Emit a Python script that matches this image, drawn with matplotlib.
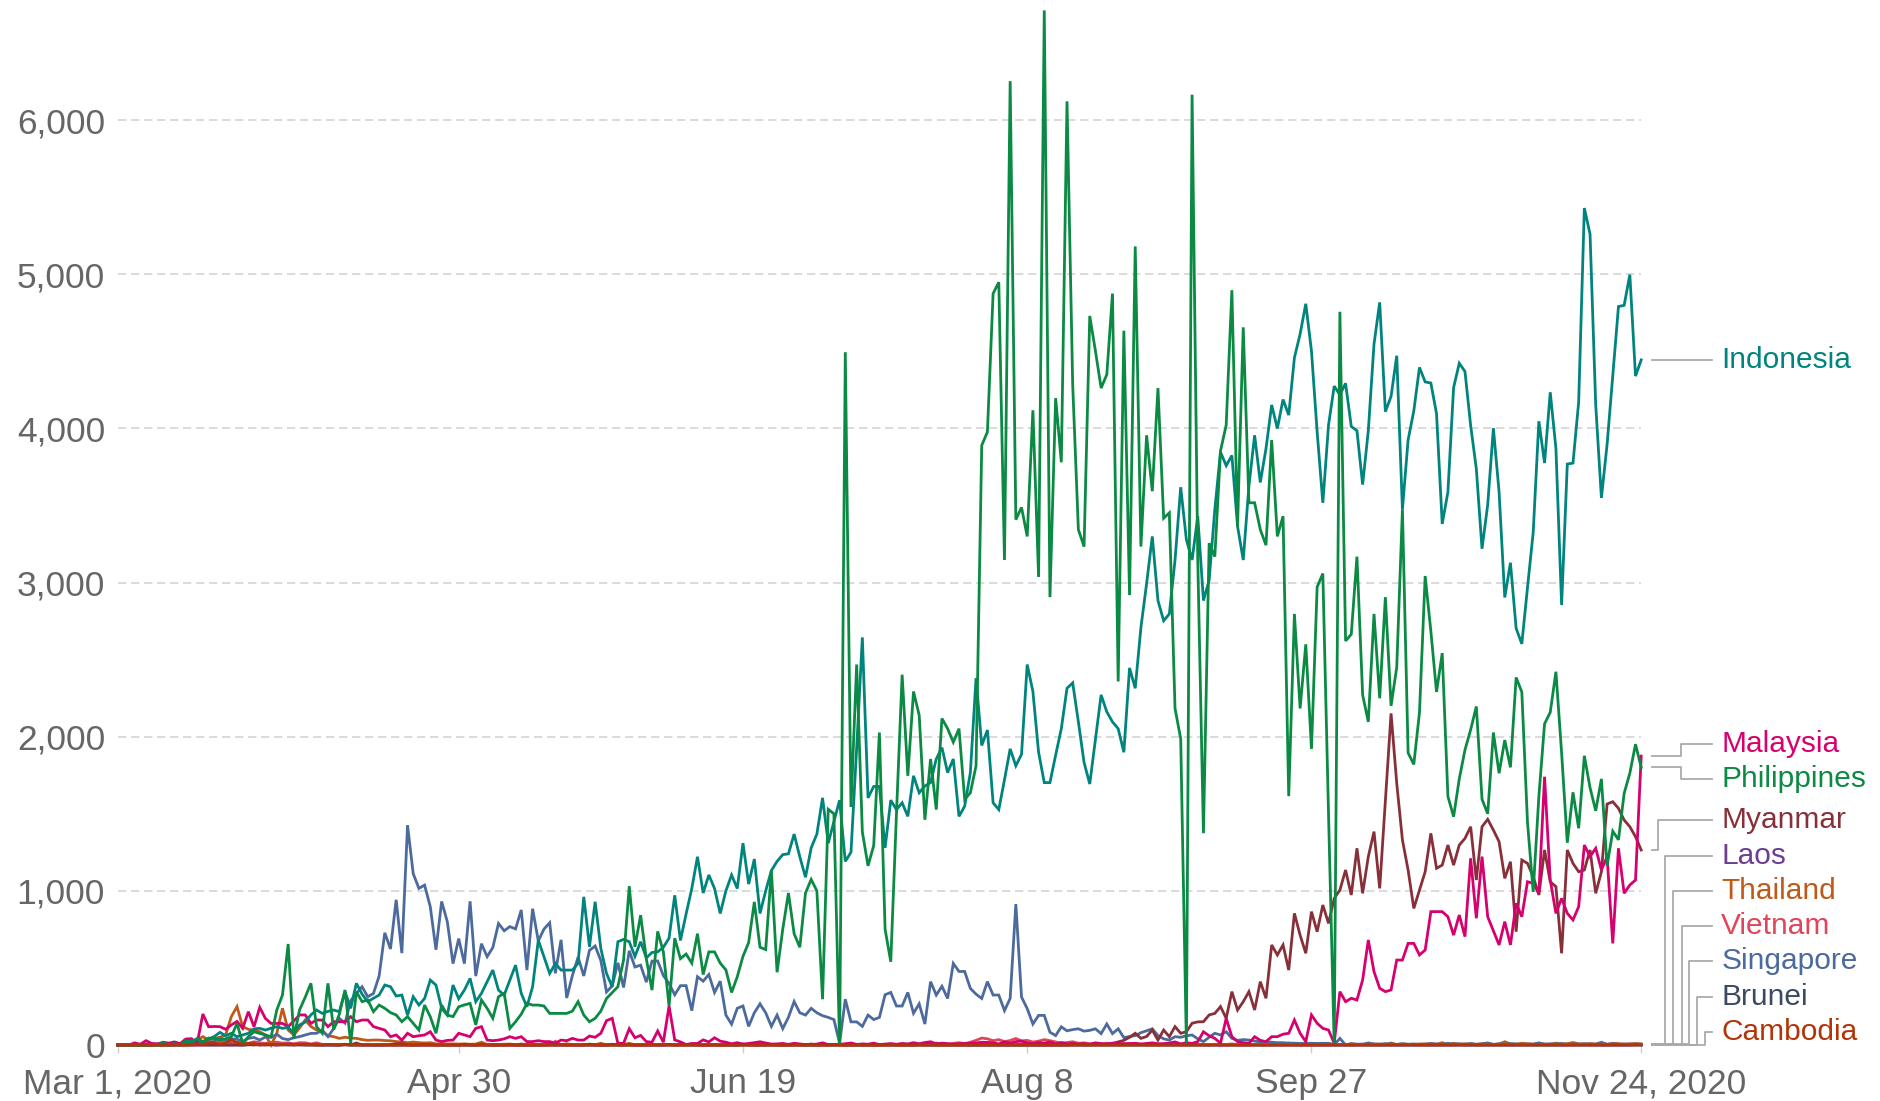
import numpy as np
import matplotlib
matplotlib.use('Agg')
import matplotlib.pyplot as plt
from matplotlib.transforms import blended_transform_factory

plt.rcParams['font.family'] = ['Liberation Sans', 'DejaVu Sans']

# daily new confirmed cases, one value per day from Mar 1 to Nov 24, 2020
indonesia = [
    0, 2, 0, 0, 0, 0, 2, 0, 13, 0,
    7, 0, 15, 27, 37, 17, 38, 55, 82, 60,
    76, 54, 65, 76, 105, 108, 97, 109, 119, 108,
    114, 76, 130, 149, 195, 227, 205, 218, 227, 216,
    346, 238, 400, 330, 281, 303, 324, 389, 378, 318,
    324, 194, 313, 259, 302, 421, 389, 238, 194, 389,
    300, 356, 432, 281, 335, 410, 486, 356, 324, 420,
    518, 335, 248, 378, 680, 572, 464, 529, 486, 486,
    486, 530, 961, 637, 929, 626, 464, 378, 670, 685,
    670, 575, 670, 565, 600, 604, 634, 693, 971, 678,
    850, 1015, 1221, 986, 1103, 1015, 853, 1000, 1103, 1015,
    1309, 1044, 1206, 853, 1000, 1132, 1191, 1235, 1240, 1368,
    1221, 1088, 1279, 1368, 1603, 1309, 1450, 1588, 1191, 1250,
    1925, 2644, 1603, 1677, 1677, 1279, 1588, 1527, 1571, 1483,
    1746, 1636, 1680, 1702, 1855, 1929, 1767, 1855, 1483, 1549,
    1767, 2380, 1943, 2043, 1571, 1527, 1720, 1921, 1811, 1886,
    2468, 2293, 1899, 1702, 1702, 1880, 2052, 2314, 2349, 2096,
    1833, 1693, 1980, 2271, 2161, 2096, 2052, 1899, 2446, 2314,
    2708, 2993, 3299, 2883, 2752, 2796, 3146, 3618, 3277, 3146,
    3430, 2883, 3014, 3474, 3846, 3758, 3824, 3364, 3146, 3627,
    3955, 3649, 3868, 4152, 3999, 4187, 4086, 4458, 4611, 4808,
    4502, 3977, 3517, 4021, 4274, 4217, 4292, 4012, 3985, 3635,
    3985, 4546, 4817, 4108, 4207, 4471, 3474, 3925, 4113, 4395,
    4301, 4294, 4095, 3380, 3587, 4264, 4422, 4369, 4019, 3737,
    3219, 3504, 4001, 3587, 2903, 3128, 2703, 2602, 2967, 3324,
    4046, 3775, 4234, 3869, 2854, 3768, 3775, 4170, 5429, 5260,
    4151, 3549, 3895, 4339, 4790, 4798, 4997, 4339, 4444,
]

philippines = [
    0, 0, 0, 0, 0, 0, 2, 0, 14, 0,
    9, 0, 28, 12, 43, 22, 45, 43, 32, 40,
    54, 140, 11, 54, 86, 75, 65, 54, 227, 324,
    655, 43, 227, 310, 400, 119, 76, 400, 100, 200,
    357, 11, 346, 281, 292, 216, 259, 238, 210, 195,
    151, 184, 140, 97, 259, 184, 76, 259, 194, 184,
    248, 260, 270, 130, 292, 238, 173, 313, 335, 108,
    151, 200, 270, 259, 259, 253, 205, 205, 205, 205,
    220, 281, 194, 151, 173, 220, 302, 340, 378, 551,
    1030, 637, 842, 560, 356, 737, 604, 253, 693, 560,
    590, 531, 722, 457, 604, 604, 531, 487, 341, 443,
    575, 664, 928, 634, 619, 1132, 472, 751, 986, 722,
    634, 986, 1074, 1000, 297, 1529, 1500, 0, 4494, 1544,
    2468, 1382, 1162, 1294, 2027, 751, 540, 1500, 2402, 1746,
    2293, 2139, 1461, 1855, 1527, 2118, 2052, 1964, 2052, 1593,
    1636, 1811, 3889, 3977, 4874, 4948, 3146, 6252, 3408, 3487,
    3299, 4117, 3036, 6711, 2905, 4196, 3780, 6121, 4283, 3343,
    3233, 4729, 4502, 4261, 4349, 4874, 2358, 4633, 2918, 5180,
    3233, 3955, 3592, 4261, 3417, 3452, 2183, 1986, 0, 6164,
    3146, 1374, 3255, 3168, 3854, 4021, 4896, 3364, 4655, 3517,
    3517, 3343, 3242, 3924, 3299, 3430, 1614, 2796, 2183, 2599,
    1921, 2971, 3058, 1500, 0, 4756, 2621, 2664, 3168, 2271,
    2096, 2796, 2249, 2905, 2200, 2450, 3474, 1895, 1820, 2158,
    3042, 2685, 2290, 2542, 1613, 1481, 1726, 1914, 2045, 2196,
    1594, 1500, 2027, 1763, 1978, 1801, 2384, 2290, 1444, 993,
    1613, 2083, 2158, 2421, 1895, 1312, 1639, 1406, 1876, 1669,
    1519, 1726, 1162, 1387, 1331, 1632, 1763, 1951, 1801,
]

singapore = [
    2, 2, 2, 2, 3, 5, 7, 8, 10, 6,
    12, 0, 10, 13, 9, 14, 17, 23, 47, 32,
    40, 38, 23, 43, 49, 32, 52, 49, 70, 42,
    35, 47, 54, 65, 75, 76, 97, 54, 106, 173,
    142, 287, 335, 378, 313, 334, 447, 728, 623, 942,
    596, 1426, 1111, 1016, 1037, 897, 618, 931, 799, 528,
    690, 528, 932, 447, 657, 573, 632, 788, 741, 768,
    753, 876, 486, 884, 675, 752, 793, 465, 682, 305,
    451, 570, 448, 614, 642, 548, 344, 383, 533, 373,
    611, 506, 518, 408, 544, 545, 450, 399, 326, 385,
    385, 223, 443, 414, 457, 341, 414, 194, 135, 238,
    253, 121, 209, 267, 209, 121, 194, 106, 180, 282,
    209, 194, 238, 209, 190, 179, 165, 11, 297, 150,
    150, 121, 194, 165, 179, 326, 341, 253, 253, 341,
    206, 267, 136, 411, 324, 381, 302, 529, 477, 477,
    367, 330, 302, 411, 324, 324, 223, 302, 914, 311,
    236, 136, 192, 192, 83, 61, 118, 92, 100, 105,
    90, 95, 105, 74, 136, 74, 105, 48, 55, 61,
    80, 92, 105, 61, 40, 32, 54, 50, 60, 65,
    40, 22, 50, 76, 65, 86, 43, 30, 35, 32,
    25, 20, 22, 18, 15, 15, 12, 12, 10, 11,
    11, 10, 11, 11, 2, 43, 0, 8, 5, 6,
    10, 7, 5, 9, 6, 4, 8, 5, 7, 3,
    5, 9, 7, 4, 11, 6, 8, 3, 10, 5,
    6, 12, 4, 8, 5, 9, 7, 4, 6, 5,
    14, 4, 8, 6, 10, 3, 7, 5, 9, 4,
    6, 10, 5, 8, 4, 7, 5, 6, 5,
]

malaysia = [
    0, 0, 0, 14, 5, 28, 10, 6, 18, 12,
    20, 9, 39, 41, 11, 201, 119, 120, 119, 102,
    130, 153, 108, 216, 119, 244, 172, 140, 140, 140,
    119, 156, 195, 195, 140, 162, 162, 119, 151, 151,
    151, 184, 151, 162, 162, 119, 108, 97, 54, 65,
    32, 76, 54, 60, 65, 86, 32, 22, 30, 32,
    76, 65, 54, 108, 119, 32, 28, 32, 40, 54,
    43, 54, 22, 22, 28, 22, 22, 11, 32, 28,
    43, 32, 32, 58, 50, 76, 158, 173, 11, 11,
    106, 47, 62, 22, 18, 91, 18, 253, 33, 20,
    3, 10, 10, 33, 20, 47, 25, 18, 8, 15,
    6, 10, 15, 21, 13, 6, 7, 10, 4, 11,
    7, 2, 3, 6, 14, 3, 2, 5, 8, 13,
    4, 6, 5, 12, 3, 6, 9, 5, 10, 7,
    15, 8, 16, 21, 7, 12, 9, 5, 8, 10,
    11, 13, 18, 17, 15, 7, 20, 12, 22, 25,
    13, 9, 15, 12, 20, 5, 16, 7, 10, 6,
    8, 4, 14, 9, 5, 12, 10, 7, 9, 11,
    6, 10, 14, 8, 9, 13, 20, 7, 15, 10,
    22, 86, 60, 43, 11, 173, 54, 22, 15, 11,
    54, 30, 22, 54, 54, 70, 76, 162, 76, 22,
    195, 141, 108, 97, 11, 346, 281, 303, 292, 422,
    681, 476, 368, 346, 357, 551, 551, 659, 659, 584,
    616, 865, 865, 865, 832, 713, 843, 703, 1211, 822,
    1222, 832, 740, 649, 800, 649, 919, 832, 1059, 1049,
    984, 1740, 1070, 854, 951, 854, 811, 897, 1297, 1222,
    1276, 1135, 1222, 659, 1276, 984, 1038, 1070, 1874,
]

myanmar = [
    0, 0, 0, 0, 0, 0, 0, 0, 0, 0,
    0, 0, 0, 0, 0, 0, 0, 0, 0, 0,
    0, 0, 0, 2, 0, 3, 0, 2, 1, 2,
    6, 1, 3, 5, 2, 1, 0, 1, 1, 0,
    5, 0, 13, 0, 1, 0, 0, 0, 3, 7,
    8, 3, 0, 1, 4, 2, 0, 0, 0, 1,
    0, 5, 0, 0, 4, 0, 0, 0, 0, 3,
    0, 0, 0, 0, 0, 0, 3, 1, 2, 0,
    0, 0, 0, 6, 0, 0, 0, 5, 0, 0,
    2, 0, 0, 0, 2, 0, 1, 4, 0, 2,
    4, 2, 1, 0, 0, 2, 0, 0, 1, 0,
    4, 3, 0, 0, 1, 2, 0, 0, 0, 2,
    1, 0, 0, 0, 3, 1, 0, 2, 0, 1,
    0, 0, 1, 0, 0, 0, 2, 0, 0, 0,
    0, 3, 2, 0, 0, 0, 1, 0, 0, 0,
    0, 0, 0, 0, 1, 0, 0, 0, 0, 0,
    0, 1, 0, 0, 1, 0, 0, 0, 6, 2,
    2, 1, 3, 2, 5, 10, 20, 30, 50, 76,
    43, 55, 97, 32, 97, 54, 119, 76, 86, 141,
    150, 151, 195, 205, 249, 173, 346, 227, 281, 346,
    227, 411, 303, 649, 584, 649, 486, 854, 713, 595,
    865, 735, 908, 789, 951, 1005, 1135, 973, 1276, 984,
    1222, 1384, 1016, 1589, 2151, 1697, 1330, 1135, 886, 1005,
    1124, 1373, 1146, 1167, 1297, 1167, 1297, 1340, 1416, 1070,
    1416, 1464, 1394, 1319, 1081, 1189, 735, 1200, 1178, 1092,
    973, 1265, 1059, 1027, 595, 1265, 1178, 1124, 1135, 1265,
    984, 1124, 1563, 1578, 1535, 1459, 1416, 1351, 1265,
]

thailand = [
    0, 1, 0, 0, 0, 0, 0, 2, 0, 1,
    3, 0, 0, 11, 32, 54, 32, 43, 50, 65,
    184, 249, 119, 102, 95, 86, 65, 0, 76, 238,
    97, 65, 110, 162, 120, 97, 90, 60, 54, 43,
    50, 45, 43, 35, 30, 32, 32, 29, 27, 22,
    20, 15, 19, 15, 13, 15, 7, 9, 7, 7,
    6, 7, 5, 6, 18, 3, 1, 3, 5, 6,
    2, 7, 1, 0, 3, 0, 2, 2, 3, 8,
    3, 2, 3, 1, 2, 11, 1, 1, 3, 1,
    11, 1, 2, 3, 1, 3, 2, 4, 1, 2,
    0, 5, 2, 0, 2, 1, 0, 0, 3, 1,
    4, 0, 2, 0, 2, 3, 0, 0, 1, 0,
    2, 0, 7, 1, 0, 3, 4, 0, 0, 2,
    1, 6, 3, 0, 0, 2, 6, 1, 0, 3,
    4, 2, 0, 5, 13, 1, 0, 3, 1, 6,
    0, 4, 1, 2, 0, 2, 5, 3, 1, 6,
    2, 4, 3, 2, 0, 1, 5, 2, 1, 9,
    0, 3, 1, 2, 4, 4, 1, 0, 3, 6,
    6, 0, 2, 0, 5, 3, 9, 1, 3, 2,
    4, 2, 1, 5, 2, 3, 7, 1, 2, 5,
    3, 2, 1, 6, 4, 2, 13, 3, 2, 4,
    8, 1, 2, 7, 3, 4, 2, 8, 4, 2,
    14, 5, 6, 2, 13, 3, 7, 4, 2, 7,
    7, 9, 4, 15, 2, 11, 5, 8, 6, 4,
    9, 13, 3, 6, 21, 7, 5, 11, 8, 6,
    10, 7, 4, 12, 6, 9, 16, 8, 5, 10,
    6, 18, 4, 11, 9, 5, 7, 10, 7,
]

vietnam = [
    0, 0, 0, 0, 0, 0, 0, 2, 3, 9,
    1, 7, 8, 14, 9, 4, 14, 10, 19, 19,
    7, 18, 19, 11, 21, 14, 10, 16, 18, 12,
    14, 8, 15, 14, 7, 14, 4, 4, 3, 2,
    4, 4, 1, 3, 1, 0, 3, 3, 0, 0,
    0, 0, 0, 0, 0, 0, 0, 0, 0, 0,
    0, 0, 2, 0, 1, 0, 0, 0, 0, 0,
    0, 0, 0, 0, 0, 0, 0, 24, 0, 0,
    2, 1, 0, 3, 0, 0, 0, 1, 2, 8,
    0, 0, 0, 0, 1, 2, 0, 1, 1, 1,
    0, 3, 0, 0, 0, 1, 0, 1, 0, 0,
    7, 0, 0, 3, 2, 1, 1, 0, 0, 0,
    1, 0, 3, 1, 0, 0, 3, 0, 0, 0,
    4, 0, 0, 1, 2, 4, 0, 1, 2, 3,
    0, 3, 2, 3, 6, 7, 4, 11, 15, 9,
    18, 30, 45, 40, 28, 35, 22, 29, 42, 27,
    30, 19, 25, 35, 28, 20, 12, 16, 21, 11,
    14, 8, 10, 7, 12, 5, 3, 9, 8, 3,
    4, 6, 2, 5, 4, 1, 3, 1, 0, 2,
    1, 2, 0, 2, 0, 1, 3, 1, 0, 0,
    1, 2, 0, 1, 4, 0, 2, 1, 0, 1,
    0, 2, 1, 0, 1, 3, 2, 0, 2, 1,
    5, 0, 2, 1, 3, 4, 1, 3, 2, 1,
    2, 0, 3, 8, 2, 1, 3, 5, 3, 1,
    2, 5, 1, 4, 3, 2, 1, 7, 4, 2,
    1, 4, 2, 7, 0, 1, 2, 3, 1, 4,
    2, 1, 0, 3, 4, 1, 6, 2, 3,
]

brunei = [
    0, 0, 0, 0, 0, 0, 0, 0, 0, 1,
    0, 10, 1, 20, 5, 13, 6, 19, 2, 5,
    15, 4, 0, 3, 13, 5, 10, 3, 3, 1,
    2, 3, 2, 0, 0, 1, 1, 0, 0, 0,
    1, 0, 0, 0, 1, 0, 0, 0, 0, 0,
    0, 0, 0, 0, 0, 0, 0, 0, 0, 0,
    0, 0, 0, 0, 0, 0, 0, 0, 0, 0,
    0, 0, 0, 0, 0, 0, 0, 0, 0, 0,
    0, 0, 0, 0, 0, 0, 0, 0, 0, 0,
    0, 0, 0, 0, 0, 0, 0, 0, 0, 0,
    0, 0, 0, 0, 0, 0, 0, 0, 0, 0,
    0, 0, 0, 0, 0, 0, 0, 0, 0, 0,
    0, 0, 0, 0, 0, 0, 0, 0, 0, 0,
    0, 0, 0, 0, 0, 0, 0, 0, 0, 0,
    0, 0, 0, 0, 0, 0, 0, 0, 0, 0,
    0, 0, 0, 0, 0, 0, 0, 0, 0, 0,
    0, 0, 0, 0, 0, 0, 0, 0, 0, 0,
    0, 0, 0, 0, 0, 0, 0, 0, 0, 0,
    0, 0, 0, 0, 0, 0, 0, 0, 0, 0,
    0, 0, 0, 0, 0, 0, 0, 0, 0, 0,
    0, 0, 0, 0, 0, 0, 0, 0, 0, 0,
    0, 0, 0, 0, 0, 0, 0, 0, 0, 0,
    0, 0, 0, 0, 0, 0, 0, 0, 0, 0,
    0, 0, 0, 0, 0, 0, 1, 0, 0, 0,
    0, 0, 0, 0, 0, 0, 0, 0, 0, 0,
    0, 0, 0, 0, 0, 0, 0, 0, 0, 0,
    0, 0, 0, 0, 0, 0, 0, 0, 0,
]

laos = [
    0, 0, 0, 0, 0, 0, 0, 0, 0, 0,
    0, 0, 0, 0, 0, 0, 0, 0, 0, 0,
    0, 0, 0, 2, 4, 0, 2, 1, 0, 2,
    0, 1, 0, 1, 1, 0, 0, 0, 0, 0,
    3, 0, 0, 0, 0, 0, 0, 0, 0, 0,
    0, 0, 0, 0, 0, 0, 0, 0, 0, 0,
    0, 0, 0, 0, 0, 0, 0, 0, 0, 0,
    0, 0, 0, 0, 0, 0, 0, 0, 0, 0,
    0, 0, 0, 0, 0, 0, 0, 0, 0, 0,
    0, 0, 0, 0, 0, 0, 0, 0, 0, 0,
    0, 0, 0, 0, 0, 0, 0, 0, 0, 0,
    0, 0, 0, 0, 0, 0, 0, 0, 0, 0,
    0, 0, 0, 0, 0, 0, 0, 0, 0, 0,
    0, 0, 0, 0, 0, 0, 0, 0, 0, 0,
    0, 0, 0, 0, 0, 0, 0, 0, 0, 0,
    0, 0, 0, 0, 0, 0, 0, 0, 0, 0,
    0, 0, 0, 0, 0, 0, 0, 0, 0, 0,
    0, 0, 0, 0, 0, 0, 0, 0, 0, 0,
    0, 0, 0, 0, 0, 0, 0, 0, 0, 0,
    0, 0, 0, 0, 0, 0, 0, 0, 0, 0,
    1, 0, 0, 0, 0, 0, 0, 0, 0, 0,
    0, 0, 0, 0, 0, 0, 0, 0, 0, 0,
    0, 0, 0, 0, 0, 0, 0, 0, 0, 0,
    0, 0, 0, 0, 0, 0, 0, 0, 0, 0,
    0, 0, 0, 0, 0, 0, 0, 0, 0, 0,
    0, 0, 0, 0, 0, 0, 0, 0, 1, 0,
    0, 0, 0, 0, 0, 0, 0, 2, 0,
]

cambodia = [
    0, 0, 0, 0, 0, 0, 0, 1, 0, 0,
    0, 0, 0, 0, 2, 5, 12, 16, 4, 12,
    35, 16, 3, 10, 9, 0, 5, 4, 1, 3,
    2, 0, 5, 1, 2, 0, 0, 3, 1, 0,
    2, 1, 0, 0, 0, 0, 0, 0, 0, 0,
    0, 0, 0, 0, 0, 0, 0, 0, 0, 0,
    0, 0, 0, 0, 0, 0, 0, 0, 0, 0,
    0, 0, 0, 0, 0, 0, 0, 0, 0, 0,
    0, 0, 0, 0, 0, 0, 0, 0, 0, 0,
    0, 0, 0, 0, 0, 0, 0, 1, 0, 0,
    0, 0, 0, 0, 0, 0, 0, 0, 0, 0,
    0, 0, 0, 0, 0, 0, 0, 0, 0, 0,
    0, 0, 0, 0, 0, 0, 1, 0, 0, 0,
    0, 0, 0, 0, 0, 0, 0, 0, 0, 0,
    0, 0, 0, 0, 0, 0, 0, 0, 0, 0,
    0, 0, 0, 0, 0, 0, 0, 0, 0, 0,
    0, 0, 0, 0, 0, 0, 0, 0, 0, 0,
    0, 0, 0, 0, 0, 0, 0, 0, 0, 0,
    0, 0, 0, 0, 0, 0, 0, 0, 0, 0,
    0, 0, 0, 0, 0, 0, 0, 0, 0, 0,
    0, 0, 0, 0, 0, 0, 0, 0, 0, 0,
    0, 0, 0, 0, 0, 0, 0, 0, 0, 0,
    0, 0, 0, 0, 0, 0, 0, 0, 0, 0,
    0, 0, 0, 0, 0, 0, 0, 0, 0, 0,
    0, 0, 0, 0, 0, 0, 0, 0, 0, 0,
    0, 0, 0, 0, 0, 0, 0, 0, 0, 0,
    0, 0, 0, 0, 0, 0, 0, 0, 1,
]

tick_days = [0, 60, 110, 160, 210, 268]
tick_labels = ['Mar 1, 2020', 'Apr 30', 'Jun 19', 'Aug 8', 'Sep 27', 'Nov 24, 2020']
y_ticks = [0, 1000, 2000, 3000, 4000, 5000, 6000]

# name, data, colour  (drawing order, bottom layer first)
series = [
    ('Laos', laos, '#6d3e91'),
    ('Brunei', brunei, '#3b4a62'),
    ('Vietnam', vietnam, '#e0455a'),
    ('Thailand', thailand, '#c05917'),
    ('Singapore', singapore, '#4c6a9c'),
    ('Myanmar', myanmar, '#883039'),
    ('Malaysia', malaysia, '#d6006e'),
    ('Indonesia', indonesia, '#00847e'),
    ('Philippines', philippines, '#0b8a43'),
    ('Cambodia', cambodia, '#b13507'),
]
colors = {name: c for name, _, c in series}
last_value = {name: vals[-1] for name, vals, _ in series}

# labels from bottom to top, with elbow offsets (px right of the line end)
label_order = ['Cambodia', 'Brunei', 'Singapore', 'Vietnam', 'Thailand',
               'Laos', 'Myanmar', 'Philippines', 'Malaysia', 'Indonesia']
elbow_px = {'Cambodia': 53, 'Brunei': 45, 'Singapore': 37, 'Vietnam': 30,
            'Thailand': 21, 'Laos': 13, 'Myanmar': 6, 'Philippines': 29,
            'Malaysia': 29, 'Indonesia': None}


def spread_labels(targets, gap, lower):
    groups = []
    for i, t in enumerate(targets):
        groups.append([[i], max(lower, t)])
        while len(groups) > 1:
            prev_idx, prev_base = groups[-2]
            prev_top = prev_base + gap * (len(prev_idx) - 1)
            if groups[-1][1] >= prev_top + gap:
                break
            idx = prev_idx + groups[-1][0]
            base = np.mean([targets[k] - j * gap for j, k in enumerate(idx)])
            groups[-2:] = [[idx, max(lower, base)]]
    pos = np.zeros(len(targets))
    for idx, base in groups:
        for j, k in enumerate(idx):
            pos[k] = base + j * gap
    return pos


W, H = 1881, 1101
fig = plt.figure(figsize=(W / 100, H / 100), dpi=100)
ax_left, ax_w = 117.6 / W, 1523.6 / W
ax_bottom = (H - 1045) / H
y_top = 6750
ax_h = y_top * (925 / 6000) / H
ax = fig.add_axes([ax_left, ax_bottom, ax_w, ax_h])

for name, vals, c in series:
    ax.plot(np.arange(len(vals)), vals, color=c, lw=2.0, clip_on=False,
            solid_joinstyle='miter', zorder=3)

ax.set_xlim(0, 268)
ax.set_ylim(0, y_top)

for yv in y_ticks[1:]:
    ax.plot([0, 268], [yv, yv], color='#d4d4d4', lw=1.2,
            linestyle=(0, (5, 2.8)), zorder=1)

ax.set_yticks(y_ticks)
ax.set_yticklabels(['{:,}'.format(v) for v in y_ticks])
ax.set_xticks(tick_days)
ax.set_xticklabels(tick_labels)
ax.tick_params(axis='y', length=0, pad=9, labelsize=25.5, labelcolor='#666666')
ax.tick_params(axis='x', length=6, width=1, color='#cccccc', pad=10,
               labelsize=25.5, labelcolor='#666666')
for s in ['top', 'right', 'left']:
    ax.spines[s].set_visible(False)
ax.spines['bottom'].set_color('#aaaaaa')
ax.spines['bottom'].set_zorder(2)

# end labels with connector lines
px_per_unit = 925 / 6000
gap = 35.3 / px_per_unit
pos = spread_labels([last_value[n] for n in label_order], gap, 13 / px_per_unit)
tr = blended_transform_factory(ax.transAxes, ax.transData)
ax_w_px = ax_w * W
x0 = 1 + 11 / ax_w_px
x_end = 1 + 71 / ax_w_px
x_text = 1 + 80 / ax_w_px
for name, ly in zip(label_order, pos):
    ty = last_value[name]
    if elbow_px[name] is None:
        xs, ys = [x0, x_end], [ly, ly]
    else:
        xe = x0 + elbow_px[name] / ax_w_px
        xs, ys = [x0, xe, xe, x_end], [ty, ty, ly, ly]
    ax.plot(xs, ys, color='#aaaaaa', lw=1.3, transform=tr, clip_on=False)
    ax.text(x_text, ly, name, transform=tr, color=colors[name], fontsize=21.5,
            va='center', ha='left')

fig.savefig('out.png', dpi=100)
